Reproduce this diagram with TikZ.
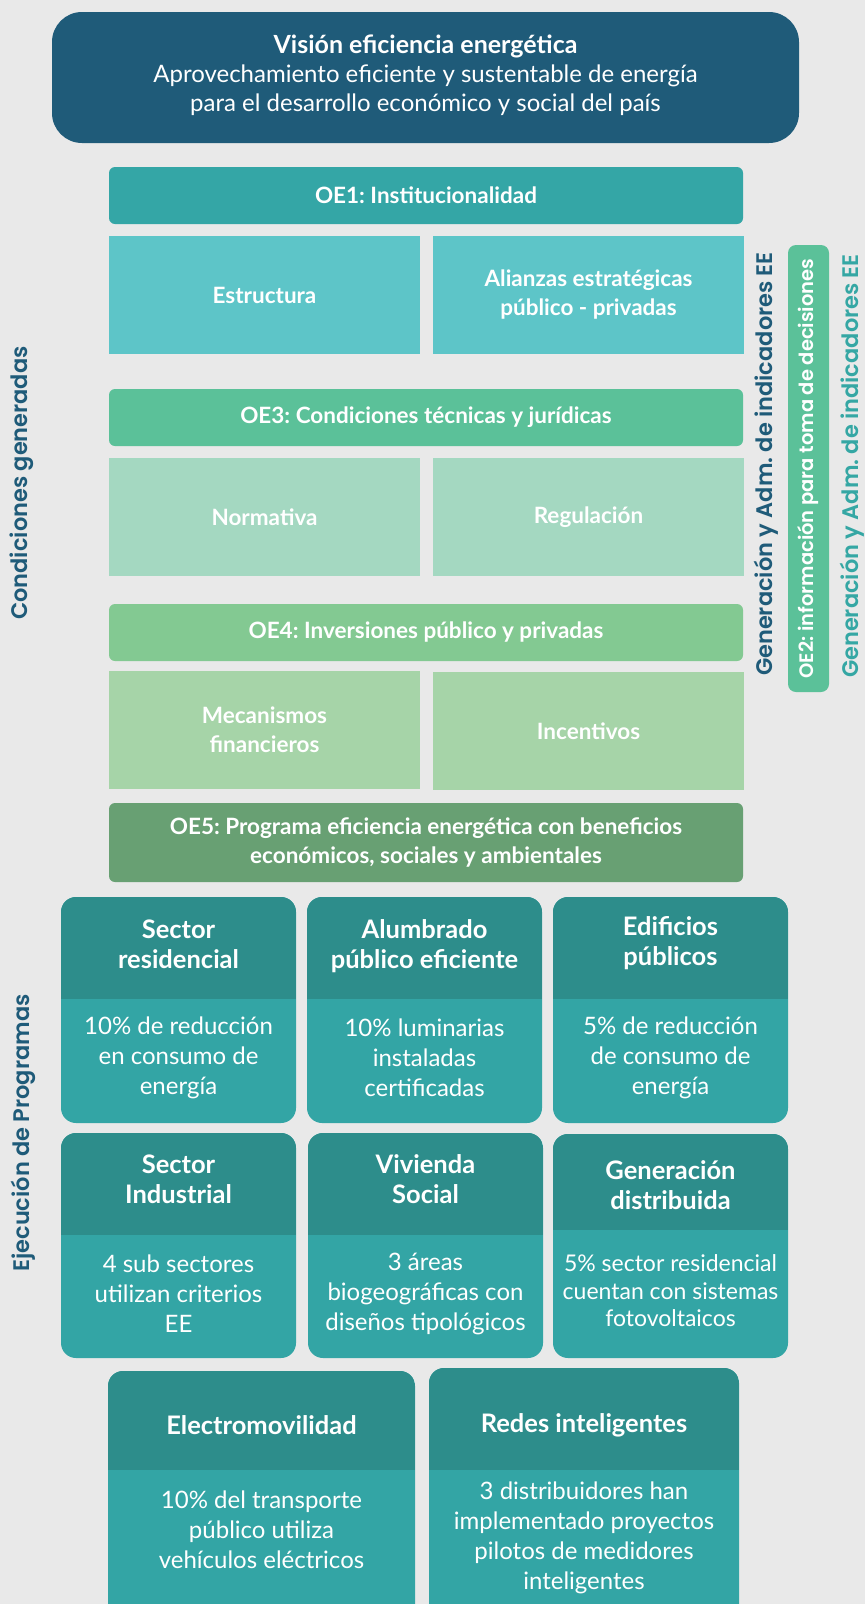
\documentclass[tikz,border=0pt]{standalone}
\usepackage{fontspec}
\setmainfont{Lato}
\newfontfamily\sidefont{Poppins}[BoldFont={* SemiBold}]
\usepackage{xcolor}
\usepackage{tikz}
\usetikzlibrary{positioning}
\definecolor{bgcol}{HTML}{E9E9E9}
\definecolor{visioncol}{HTML}{1F5B79}
\definecolor{oeone}{HTML}{34A6A6}
\definecolor{oeonesub}{HTML}{5DC5C8}
\definecolor{oethree}{HTML}{5BC199}
\definecolor{oethreesub}{HTML}{A4D8C1}
\definecolor{oefour}{HTML}{83C992}
\definecolor{oefoursub}{HTML}{A6D4A8}
\definecolor{oefive}{HTML}{68A073}
\definecolor{cardhead}{HTML}{2D8D8B}
\definecolor{cardbody}{HTML}{33A5A5}
\definecolor{tealtxt}{HTML}{35A7A4}
\frenchspacing

\begin{document}
\begin{tikzpicture}[x=1pt,y=-1pt]
        \tikzset{box/.style = {inner sep=0pt, outer sep=0pt, text=white, align=center, font=\bfseries\fontsize{22.5}{29}\selectfont}}
        \tikzset{oebar/.style = {box, rounded corners=6pt, minimum width=634, minimum height=57}}
        \tikzset{subbox/.style = {box, minimum width=311, minimum height=118}}
        \tikzset{card/.style = {fill=cardbody, rounded corners=15pt, inner sep=0pt, outer sep=0pt,
            path picture={\fill[cardhead, sharp corners] (path picture bounding box.north west) rectangle ([yshift=-#1pt]path picture bounding box.north east);}}}
        \tikzset{headtxt/.style = {box, font=\bfseries\fontsize{25.5}{30}\selectfont}}
        \tikzset{bodytxt/.style = {box, font=\fontsize{24}{30}\selectfont}}
        \tikzset{sidelbl/.style = {rotate=90, inner sep=0pt, font=\sidefont\bfseries\fontsize{22.5}{27}\selectfont}}

        \useasboundingbox (0,0) rectangle (865,1604);
        \fill[bgcol] (0,0) rectangle (865,1604);

        % vision
        \node[fill=visioncol, rounded corners=30pt, minimum width=747, minimum height=131, inner sep=0pt] (vision) at (425.5,77.5) {};
        \node[box, font=\fontsize{24}{29}\selectfont] (visiontxt) at (425.5,75) {{\bfseries\fontsize{25}{29}\selectfont Visión eficiencia energética}\\Aprovechamiento eficiente y sustentable de energía\\para el desarrollo económico y social del país};

        % condiciones generadas
        \node[oebar, fill=oeone] (oe1) at (426,195.5) {OE1: Institucionalidad};
        \node[subbox, fill=oeonesub] (estructura) at (264.5,295) {Estructura};
        \node[subbox, fill=oeonesub] (alianzas) at (588.5,295) {Alianzas estratégicas\\público - privadas};
        \node[oebar, fill=oethree] (oe3) at (426,417.5) {OE3: Condiciones técnicas y jurídicas};
        \node[subbox, fill=oethreesub] (normativa) at (264.5,517) {Normativa};
        \node[subbox, fill=oethreesub] (regulacion) at (588.5,517) {Regulación};
        \node[oebar, fill=oefour] (oe4) at (426,632.5) {OE4: Inversiones público y privadas};
        \node[subbox, fill=oefoursub] (mecanismos) at (264.5,730) {Mecanismos\\financieros};
        \node[subbox, fill=oefoursub] (incentivos) at (588.5,731) {Incentivos};
        \node[oebar, fill=oefive, minimum height=79] (oe5) at (426,842.5) {OE5: Programa eficiencia energética con beneficios\\económicos, sociales y ambientales};

        % side labels
        \node[sidelbl, text=visioncol] (condgen) at (22,483) {Condiciones generadas};
        \node[sidelbl, text=visioncol] (ejecprog) at (23,1133) {Ejecución de Programas};
        \node[sidelbl, text=visioncol] (genadm) at (766,464) {Generación y Adm. de indicadores EE};
        \node[sidelbl, fill=oethree, text=white, rounded corners=8pt, minimum width=447, minimum height=41, font=\sidefont\bfseries\fontsize{19.5}{24}\selectfont] (oe2) at (808.5,468.5) {OE2: información para toma de decisiones};
        \node[sidelbl, text=tealtxt] (genadmtwo) at (852,466) {Generación y Adm. de indicadores EE};

        % programas, fila 1
        \node[card=102, minimum width=235, minimum height=226] (resid) at (178.5,1010) {};
        \node[headtxt] (residh) at (178.5,944) {Sector\\residencial};
        \node[bodytxt] (residb) at (178.5,1058) {10\% de reducción\\en consumo de\\energía};
        \node[card=102, minimum width=235, minimum height=226] (alumb) at (424.5,1010) {};
        \node[headtxt] (alumbh) at (424.5,946) {Alumbrado\\público eficiente};
        \node[bodytxt] (alumbb) at (424.5,1058) {10\% luminarias\\instaladas\\certificadas};
        \node[card=102, minimum width=235, minimum height=226] (edif) at (670.5,1010) {};
        \node[headtxt] (edifh) at (670.5,943) {Edificios\\públicos};
        \node[bodytxt] (edifb) at (670.5,1058) {5\% de reducción\\de consumo de\\energía};

        % programas, fila 2
        \node[card=102, minimum width=235, minimum height=225] (indus) at (178.5,1245.5) {};
        \node[headtxt] (indush) at (178.5,1179) {Sector\\Industrial};
        \node[bodytxt] (indusb) at (178.5,1294) {4 sub sectores\\utilizan criterios\\EE};
        \node[card=102, minimum width=235, minimum height=225] (vivienda) at (425.5,1245.5) {};
        \node[headtxt] (viviendah) at (425.5,1179) {Vivienda\\Social};
        \node[bodytxt] (viviendab) at (425.5,1294) {3 áreas\\biogeográficas con\\diseños tipológicos};
        \node[card=96, minimum width=235, minimum height=224] (gendist) at (670.5,1246) {};
        \node[headtxt] (gendisth) at (670.5,1185) {Generación\\distribuida};
        \node[bodytxt, font=\fontsize{23}{27.5}\selectfont] (gendistb) at (670.5,1291) {5\% sector residencial\\cuentan con sistemas\\fotovoltaicos};

        % programas, fila 3
        \node[card=99, minimum width=307, minimum height=254] (electro) at (261.5,1498) {};
        \node[headtxt] (electroh) at (261.5,1425) {Electromovilidad};
        \node[bodytxt] (electrob) at (261.5,1530) {10\% del transporte\\público utiliza\\vehículos eléctricos};
        \node[card=102, minimum width=310, minimum height=257] (redes) at (584,1496.5) {};
        \node[headtxt] (redesh) at (584,1425) {Redes inteligentes};
        \node[bodytxt] (redesb) at (584,1538) {3 distribuidores han\\implementado proyectos\\pilotos de medidores\\inteligentes};

        \end{tikzpicture}
\end{document}
